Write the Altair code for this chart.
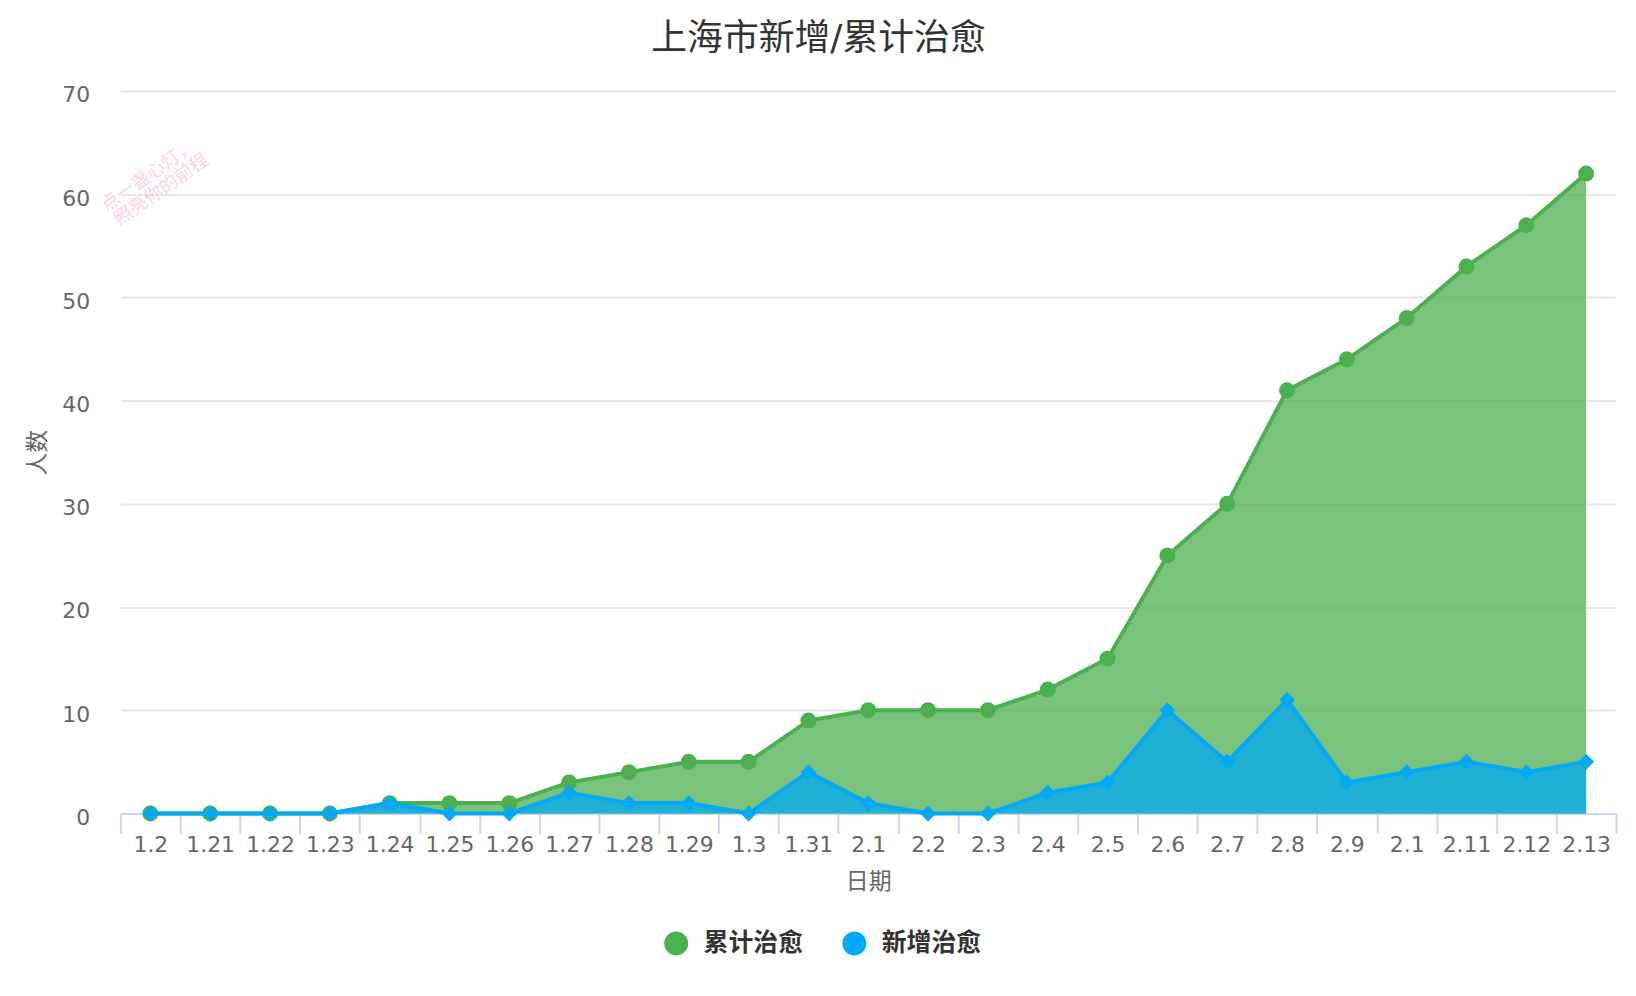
import json
import altair as alt
import pandas as pd

# ---- data ----
categories = ["1.2", "1.21", "1.22", "1.23", "1.24", "1.25", "1.26", "1.27", "1.28",
              "1.29", "1.3", "1.31", "2.1", "2.2", "2.3", "2.4", "2.5", "2.6", "2.7",
              "2.8", "2.9", "2.1", "2.11", "2.12", "2.13"]
cumulative_cured = [0, 0, 0, 0, 1, 1, 1, 3, 4, 5, 5, 9, 10, 10, 10, 12, 15, 25, 30,
                    41, 44, 48, 53, 57, 62]
new_cured = [0, 0, 0, 0, 1, 0, 0, 2, 1, 1, 0, 4, 1, 0, 0, 2, 3, 10, 5, 11, 3, 4, 5,
             4, 5]
series_names = ["累计治愈", "新增治愈"]
series_colors = ["#4CAF50", "#03A9F4"]
y_ticks = [0, 10, 20, 30, 40, 50, 60, 70]
watermark_lines = ["点一盏心灯，", "照亮你的前程"]

FONT = "DejaVu Sans, Noto Sans CJK SC"
W, H = 1503, 726

rows = []
for i, c in enumerate(categories):
    rows.append({"idx": i, "label": c, "series": series_names[0], "value": cumulative_cured[i]})
    rows.append({"idx": i, "label": c, "series": series_names[1], "value": new_cured[i]})
df = pd.DataFrame(rows)

x_values = [-0.5 + 0.5 * k for k in range(2 * len(categories) + 1)]
label_expr = ("datum.value % 1 === 0 ? " + json.dumps(categories, ensure_ascii=False)
              + "[datum.value] : ''")

x_enc = alt.X(
    "idx:Q",
    scale=alt.Scale(domain=[-0.5, len(categories) - 0.5], nice=False, zero=False),
    axis=alt.Axis(
        title="日期",
        values=x_values,
        labelExpr=label_expr,
        grid=False,
        domainColor="#ccd6eb",
        domainWidth=2,
        tickColor="#ccd6eb",
        tickWidth=2,
        tickSize=20,
        tickOpacity={"condition": {"test": "datum.value % 1 === 0", "value": 0}, "value": 1},
        labelFont=FONT,
        labelFontSize=22,
        labelColor="#666666",
        labelBaseline="middle",
        labelPadding=11,
        labelOverlap=False,
        labelFlush=False,
        labelBound=False,
        titleFont=FONT,
        titleFontSize=23,
        titleFontWeight="normal",
        titleColor="#666666",
        titleX=W / 2,
        titleY=68,
        titleAlign="center",
        titleBaseline="middle",
    ),
)

y_enc = alt.Y(
    "value:Q",
    scale=alt.Scale(domain=[0, 70], nice=False),
    axis=alt.Axis(
        title="人数",
        values=y_ticks,
        grid=True,
        gridColor="#e6e6e6",
        gridWidth=2,
        domain=False,
        ticks=False,
        labelFont=FONT,
        labelFontSize=22,
        labelColor="#666666",
        labelPadding=31,
        labelOffset=4,
        titleFont=FONT,
        titleFontSize=23,
        titleFontWeight="normal",
        titleColor="#666666",
        titleX=-83,
        titleY=H / 2,
        titleAngle=270,
        titleAlign="center",
        titleBaseline="middle",
    ),
)

color_enc = alt.Color(
    "series:N",
    scale=alt.Scale(domain=series_names, range=series_colors),
    legend=alt.Legend(
        title=None,
        orient="none",
        legendX=546,
        legendY=844,
        direction="horizontal",
        symbolType="circle",
        symbolSize=576,
        symbolOpacity=1,
        symbolStrokeWidth=0,
        labelFont=FONT,
        labelFontSize=25,
        labelFontWeight="bold",
        labelColor="#333333",
        labelOffset=15,
        columnPadding=38,
        padding=0,
    ),
)

base = alt.Chart(df)

layers = []
shapes = ["circle", "diamond"]
for name, col, shp in zip(series_names, series_colors, shapes):
    sub = base.transform_filter(alt.datum.series == name)
    area = sub.mark_area(opacity=0.75, interpolate="linear").encode(
        x=x_enc, y=alt.Y("value:Q", stack=None), color=color_enc)
    line = sub.mark_line(color=col, strokeWidth=4).encode(x=x_enc, y=y_enc)
    pts = sub.mark_point(filled=True, shape=shp, size=256, color=col, opacity=1).encode(
        x=x_enc, y=y_enc)
    layers += [area, line, pts]

wm_df = pd.DataFrame({"t": watermark_lines, "px": [28, 41], "py": [85, 99]})
watermark = alt.Chart(wm_df).mark_text(
    angle=325, font=FONT, fontSize=18.5, color="#f7a9ba", opacity=0.5,
    align="center", baseline="middle"
).encode(text="t:N", x=alt.X("px:Q", scale=None), y=alt.Y("py:Q", scale=None))

chart = alt.layer(*layers, watermark).properties(
    width=W,
    height=H,
    padding={"left": 113, "top": 81, "right": 12, "bottom": 168},
    autosize=alt.AutoSizeParams(type="none"),
    background="white",
    title=alt.TitleParams(
        text="上海市新增/累计治愈",
        font=FONT,
        fontSize=36,
        fontWeight="normal",
        color="#333333",
        anchor="middle",
        dx=-50,
        baseline="middle",
        offset=9,
    ),
).configure_view(stroke=None)

chart.save("out.html", embed_options={"renderer": "svg", "actions": False})
